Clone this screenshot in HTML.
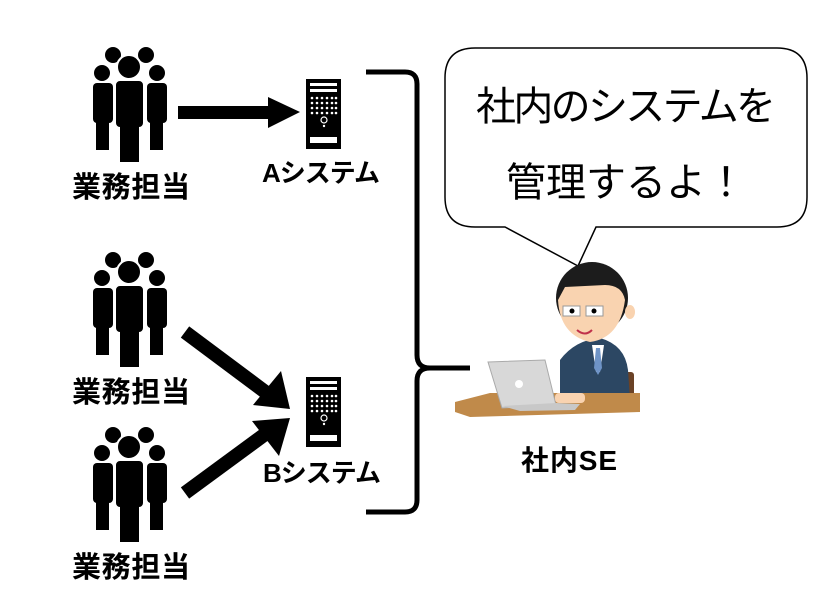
<!DOCTYPE html>
<html><head><meta charset="utf-8"><style>
html,body{margin:0;padding:0;background:#fff;}
svg{display:block}
.lb{font-family:"Liberation Sans","Noto Sans CJK JP",sans-serif;font-weight:bold;fill:#000}
.bt{font-family:"Liberation Sans","Noto Sans CJK JP",sans-serif;fill:#000;font-size:40px}
</style></head><body>
<svg width="832" height="607" viewBox="0 0 832 607" xmlns="http://www.w3.org/2000/svg">
<defs>
<g id="ppl" fill="#000">
<circle cx="113" cy="55" r="8"/><circle cx="146" cy="55" r="8"/>
<circle cx="102" cy="73" r="8"/><circle cx="157" cy="73" r="8"/>
<rect x="93" y="83" width="20" height="40" rx="4"/><rect x="96" y="115" width="13" height="35"/>
<rect x="147" y="83" width="20" height="40" rx="4"/><rect x="150" y="115" width="13" height="35"/>
<circle cx="129" cy="67" r="12" stroke="#fff" stroke-width="2"/>
<rect x="115" y="80" width="29" height="48" rx="5" stroke="#fff" stroke-width="2"/>
<rect x="120" y="120" width="19" height="42"/>
</g>
<g id="srv">
<rect x="306" y="0" width="35" height="70" fill="#000"/>
<rect x="310" y="4" width="27" height="3" fill="#fff"/><rect x="310" y="10" width="27" height="3" fill="#fff"/>
<g fill="#fff">
<circle cx="312" cy="19" r="1.3"/><circle cx="317" cy="19" r="1.3"/><circle cx="322" cy="19" r="1.3"/><circle cx="327" cy="19" r="1.3"/><circle cx="332" cy="19" r="1.3"/><circle cx="336" cy="19" r="1.3"/>
<circle cx="312" cy="24" r="1.3"/><circle cx="317" cy="24" r="1.3"/><circle cx="322" cy="24" r="1.3"/><circle cx="327" cy="24" r="1.3"/><circle cx="332" cy="24" r="1.3"/><circle cx="336" cy="24" r="1.3"/>
<circle cx="312" cy="29" r="1.3"/><circle cx="317" cy="29" r="1.3"/><circle cx="322" cy="29" r="1.3"/><circle cx="327" cy="29" r="1.3"/><circle cx="332" cy="29" r="1.3"/><circle cx="336" cy="29" r="1.3"/>
<circle cx="312" cy="34" r="1.3"/><circle cx="317" cy="34" r="1.3"/><circle cx="322" cy="34" r="1.3"/><circle cx="327" cy="34" r="1.3"/><circle cx="332" cy="34" r="1.3"/><circle cx="336" cy="34" r="1.3"/>
<circle cx="324" cy="47" r="1.2"/>
<rect x="310" y="58" width="27" height="6"/>
</g>
<circle cx="324" cy="41" r="3" fill="none" stroke="#fff" stroke-width="1.2"/>
</g>
</defs>

<use href="#ppl"/>
<use href="#ppl" transform="translate(0,205)"/>
<use href="#ppl" transform="translate(0,380)"/>
<text class="lb" x="72" y="197" font-size="29" textLength="118">業務担当</text>
<text class="lb" x="72" y="402" font-size="29" textLength="118">業務担当</text>
<text class="lb" x="72" y="577" font-size="29" textLength="118">業務担当</text>

<use href="#srv" transform="translate(0,79)"/>
<use href="#srv" transform="translate(0,377)"/>
<text class="lb" x="262" y="182" font-size="26" textLength="118">Aシステム</text>
<text class="lb" x="263" y="482" font-size="26" textLength="118">Bシステム</text>

<rect x="178" y="106" width="92" height="13" fill="#000"/>
<polygon points="268,97 300,112 268,128" fill="#000"/>
<line x1="185" y1="332" x2="268" y2="394" stroke="#000" stroke-width="14"/>
<polygon points="253,405 281,371 290,409" fill="#000"/>
<line x1="185" y1="493" x2="268" y2="432" stroke="#000" stroke-width="14"/>
<polygon points="252,421 290,418 279,456" fill="#000"/>

<path d="M366,72 L405,72 Q417,72 417,84 L417,355 Q417,368 430,368 L470,368 L430,368 Q417,368 417,381 L417,500 Q417,512 405,512 L366,512" fill="none" stroke="#000" stroke-width="5"/>

<path d="M475,48 L777,48 Q807,48 807,78 L807,197 Q807,227 777,227 L596,227 L578,266 L505,227 L475,227 Q445,227 445,197 L445,78 Q445,48 475,48 Z" fill="#fff" stroke="#000" stroke-width="1.5"/>
<text class="bt" x="626" y="120" text-anchor="middle" textLength="300">社内のシステムを</text>
<text class="bt" x="626" y="196" text-anchor="middle">管理するよ！</text>

<rect x="612" y="372" width="22" height="40" rx="3" fill="#6b4226"/>
<path d="M560,360 Q575,340 600,338 Q625,345 628,370 L630,400 L560,400 Z" fill="#2c4763"/>
<polygon points="592,345 604,345 600,372 596,372" fill="#fff"/>
<polygon points="596,348 600,348 602,368 598,375 594,368" fill="#6f94c7"/>
<ellipse cx="592" cy="298" rx="36" ry="36" fill="#1c1c1c"/>
<path d="M558,300 Q560,335 590,342 Q620,338 625,300 Q622,285 605,285 L565,287 Z" fill="#f9d3b0"/>
<ellipse cx="630" cy="312" rx="5" ry="7" fill="#f9d3b0"/>
<rect x="563" y="306" width="17" height="10" fill="#fff" stroke="#999" stroke-width="1"/>
<rect x="586" y="306" width="17" height="10" fill="#fff" stroke="#999" stroke-width="1"/>
<circle cx="572" cy="311" r="2.5" fill="#000"/><circle cx="594" cy="311" r="2.5" fill="#000"/>
<path d="M577,330 Q585,337 592,330" fill="none" stroke="#c0304a" stroke-width="2"/>
<path d="M455,402 L490,393 L640,393 L640,412 L470,417 L455,412 Z" fill="#c08a4a"/>
<polygon points="488,362 545,360 556,405 502,408" fill="#d8d8d8" stroke="#aaa" stroke-width="1"/>
<polygon points="502,406 556,403 580,404 575,410 520,411" fill="#c8c8c8"/>
<circle cx="519" cy="384" r="4" fill="#fff"/>
<rect x="555" y="393" width="30" height="10" rx="4" fill="#f9d3b0"/>
<text class="lb" x="521" y="470" font-size="28" textLength="96">社内SE</text>
</svg>
</body></html>
